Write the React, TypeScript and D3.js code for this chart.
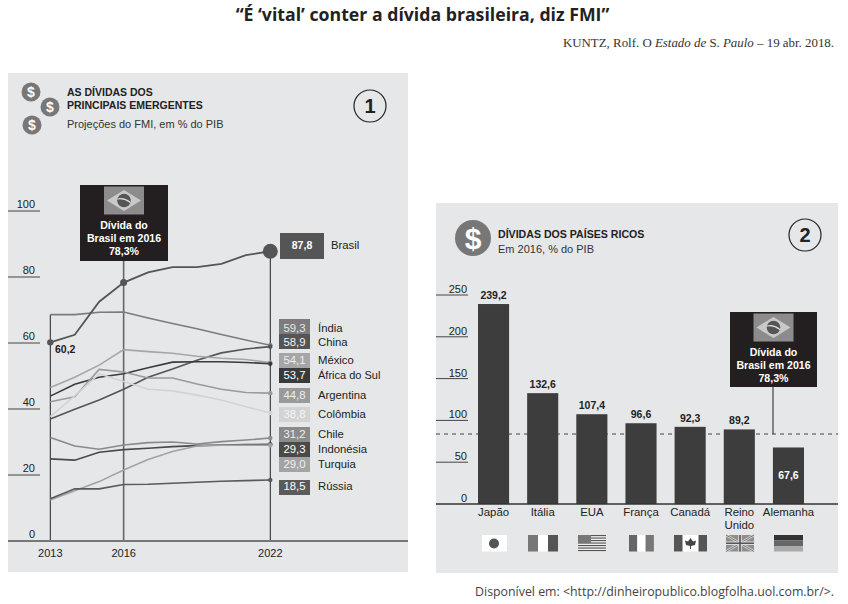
import React from "react";
import * as d3 from "d3";

const years = [2013, 2014, 2015, 2016, 2017, 2018, 2019, 2020, 2021, 2022];
const brasil = [60.2, 62.5, 72.5, 78.3, 81.4, 83, 83, 84, 86.6, 87.8];
const india = [68.6, 68.6, 69.3, 69.4, 67.6, 65.9, 64.3, 62.6, 60.9, 59.3];
const china = [37, 39.9, 42.7, 46, 49.6, 52.1, 54.8, 57, 58.2, 58.9];
const mexico = [46.5, 49.6, 53.3, 58, 57.4, 56.9, 56, 55.4, 55, 54.1];
const africa = [43.9, 47.5, 49.6, 50.7, 52.5, 54.2, 54.3, 54.3, 54.1, 53.7];
const argentina = [42.2, 43.7, 52, 51.2, 49.4, 49.4, 47.6, 46, 45, 44.8];
const colombia = [37.7, 44, 50.6, 48.3, 46, 45.5, 44.2, 42.7, 40.7, 38.8];
const chile = [31.4, 28.8, 27.8, 29.1, 29.8, 30, 29.4, 30.1, 30.6, 31.2];
const indonesia = [24.9, 24.5, 26.9, 27.7, 28.1, 28.6, 28.9, 29.1, 29.2, 29.3];
const turquia = [12.4, 15.2, 18, 21.5, 24.7, 27.1, 28.8, 29, 29, 29];
const russia = [12.8, 15.8, 15.8, 17.1, 17.2, 17.5, 17.8, 18.1, 18.3, 18.5];

const seriesNames = ["Índia", "China", "México", "África do Sul", "Argentina", "Colômbia", "Chile", "Indonésia", "Turquia", "Rússia"];
const seriesValues = [india, china, mexico, africa, argentina, colombia, chile, indonesia, turquia, russia];
const seriesColors = ["#7c7c7c", "#555555", "#a6a6a6", "#3a3a3a", "#9a9a9a", "#d3d3d3", "#8a8a8a", "#4a4a4a", "#a3a3a3", "#5a5a5a"];
const labelTops = [319, 334, 353, 368, 388, 407, 427, 442, 457, 480];
const labelBaselines = [332.2, 345.6, 364, 379, 398.6, 418.2, 438.2, 453.2, 468.2, 490.2];
const labelTextColors = ["#e8e8e8", "#f2f2f2", "#eeeeee", "#ffffff", "#eeeeee", "#f4f4f4", "#f0f0f0", "#ffffff", "#f0f0f0", "#ffffff"];

const leftTicks = [0, 20, 40, 60, 80, 100];
const yearTicks = [2013, 2016, 2022];

const countries = ["Japão", "Itália", "EUA", "França", "Canadá", "Reino", "Alemanha"];
const debts = [239.2, 132.6, 107.4, 96.6, 92.3, 89.2, 67.6];
const rightTicks = [0, 50, 100, 150, 200, 250];
const dashedLevel = 83.7;

const SANS = "'Liberation Sans', Arial, sans-serif";
const comma = (v: number) => v.toFixed(1).replace(".", ",");

const x1 = d3.scaleLinear().domain([2013, 2022]).range([50.3, 270.3]);
const y1 = d3.scaleLinear().domain([0, 100]).range([541, 211]);
const x2 = d3.scaleBand<string>().domain(countries).range([478, 804]).paddingInner(18 / 49);
const y2 = d3.scaleLinear().domain([0, 250]).range([504, 295]);
const line = d3
  .line<number>()
  .x((_, i) => x1(years[i]))
  .y((d) => y1(d));

function Coin({ cx, cy, r, size }: { cx: number; cy: number; r: number; size: number }) {
  return (
    <g>
      <circle cx={cx} cy={cy} r={r} fill="#777" />
      <text x={cx} y={cy + size * 0.36} textAnchor="middle" fontFamily={SANS} fontWeight="bold" fontSize={size} fill="#fff">
        $
      </text>
    </g>
  );
}

function Badge({ cx, cy, n }: { cx: number; cy: number; n: string }) {
  return (
    <g>
      <circle cx={cx} cy={cy} r={16} fill="none" stroke="#222" strokeWidth={1.2} />
      <text x={cx} y={cy + 7} textAnchor="middle" fontFamily={SANS} fontWeight="bold" fontSize={20} fill="#222">
        {n}
      </text>
    </g>
  );
}

function Callout({ x, y, w, h }: { x: number; y: number; w: number; h: number }) {
  const cx = x + w / 2;
  return (
    <g>
      <rect x={x} y={y} width={w} height={h} fill="#231f20" />
      <rect x={cx - 20} y={y + 1.5} width={40} height={28} fill="#8c8c8c" />
      <path d={`M${cx - 17},${y + 15.5} L${cx},${y + 5} L${cx + 17},${y + 15.5} L${cx},${y + 26} Z`} fill="#c9c9c9" />
      <circle cx={cx} cy={y + 15.5} r={6.8} fill="#555" />
      <path d={`M${cx - 6.5},${y + 14} Q${cx},${y + 12.5} ${cx + 6.5},${y + 17.5}`} stroke="#ddd" strokeWidth={1.2} fill="none" />
      <g fontFamily={SANS} fontWeight="bold" fontSize={10.6} fill="#fff" textAnchor="middle">
        <text x={cx} y={y + 43.5}>Dívida do</text>
        <text x={cx} y={y + 56.5}>Brasil em 2016</text>
        <text x={cx} y={y + 69.5}>78,3%</text>
      </g>
    </g>
  );
}

function Flags() {
  const usStripes = d3.range(0, 7);
  return (
    <g>
      <rect x={482} y={535} width={25} height={16.5} fill="#fff" />
      <circle cx={494} cy={543.5} r={5} fill="#555" />

      <rect x={528} y={535} width={10} height={16.5} fill="#777" />
      <rect x={538} y={535} width={10} height={16.5} fill="#fff" />
      <rect x={548} y={535} width={10} height={16.5} fill="#555" />

      <rect x={578} y={535} width={28} height={16.5} fill="#eee" />
      {usStripes.map((i) => (
        <rect key={i} x={578} y={535 + i * 2.5} width={28} height={1.1} fill="#555" />
      ))}
      <rect x={578} y={535} width={13} height={8} fill="#777" />

      <rect x={629} y={535} width={8.3} height={16.5} fill="#666" />
      <rect x={637.3} y={535} width={8.3} height={16.5} fill="#fff" />
      <rect x={645.6} y={535} width={8.3} height={16.5} fill="#777" />

      <rect x={674} y={535} width={33} height={16.5} fill="#fff" />
      <rect x={674} y={535} width={8.5} height={16.5} fill="#555" />
      <rect x={698.5} y={535} width={8.5} height={16.5} fill="#555" />
      <path d="M690.5,538 L693,541.5 L696,540.5 L695,545 L691,546 L691,549 L690,549 L690,546 L686,545 L685,540.5 L688,541.5 Z" fill="#444" />

      <rect x={726} y={535} width={28} height={16.5} fill="#8f8f8f" />
      <path d="M726,535 L754,551.5 M754,535 L726,551.5" stroke="#ddd" strokeWidth={2.6} />
      <path d="M726,535 L754,551.5 M754,535 L726,551.5" stroke="#555" strokeWidth={0.8} />
      <path d="M740,535 V551.5 M726,543.2 H754" stroke="#ddd" strokeWidth={3.6} />
      <path d="M740,535 V551.5 M726,543.2 H754" stroke="#555" strokeWidth={1.6} />

      <rect x={774} y={535} width={29} height={5.5} fill="#333" />
      <rect x={774} y={540.5} width={29} height={5.5} fill="#666" />
      <rect x={774} y={546} width={29} height={5.5} fill="#aaa" />
    </g>
  );
}

export default function App() {
  return (
    <svg width={848} height={604} style={{ position: "absolute", left: 0, top: 0, background: "#fff" }}>
      <text x={422.5} y={21} textAnchor="middle" fontFamily="'Open Sans', sans-serif" fontWeight="bold" fontSize={17.7} fill="#222">
        “É ‘vital’ conter a dívida brasileira, diz FMI”
      </text>
      <text x={834} y={47} textAnchor="end" fontFamily="'Liberation Serif', serif" fontSize={12.9} fill="#333">
        KUNTZ, Rolf. O <tspan fontStyle="italic">Estado de</tspan> S. <tspan fontStyle="italic">Paulo</tspan> – 19 abr. 2018.
      </text>

      {/* Panel 1 */}
      <rect x={8} y={73} width={400} height={499} fill="#e6e7e8" />
      <Coin cx={31} cy={92} r={9.5} size={14} />
      <Coin cx={50} cy={107} r={9.5} size={14} />
      <Coin cx={32} cy={125} r={9.5} size={14} />
      <g fontFamily={SANS} fontSize={10.5} fill="#222">
        <text x={67} y={96} fontWeight="bold">AS DÍVIDAS DOS</text>
        <text x={67} y={109} fontWeight="bold">PRINCIPAIS EMERGENTES</text>
        <text x={67} y={128} fill="#333" fontSize={11}>Projeções do FMI, em % do PIB</text>
      </g>
      <Badge cx={370} cy={106} n="1" />

      {leftTicks.map((t) => (
        <g key={t}>
          {t > 0 && <line x1={8} x2={40} y1={y1(t)} y2={y1(t)} stroke="#444" strokeWidth={1} />}
          <text x={35} y={y1(t) - 3} textAnchor="end" fontFamily={SANS} fontSize={11} fill="#222">
            {t}
          </text>
        </g>
      ))}

      <line x1={x1(2013)} x2={x1(2013)} y1={y1(india[0])} y2={y1(0)} stroke="#222" strokeWidth={1} />
      <line x1={x1(2016)} x2={x1(2016)} y1={255} y2={y1(0)} stroke="#666" strokeWidth={1.6} />
      <line x1={x1(2022)} x2={x1(2022)} y1={y1(87.8)} y2={y1(0)} stroke="#222" strokeWidth={1} />
      <line x1={8} x2={408} y1={y1(0)} y2={y1(0)} stroke="#777" strokeWidth={2} />

      {seriesValues.map((s, i) => (
        <g key={seriesNames[i]}>
          <path d={line(s) ?? ""} fill="none" stroke={seriesColors[i]} strokeWidth={1.6} />
          <circle cx={x1(2022)} cy={y1(s[s.length - 1])} r={2.2} fill={seriesColors[i]} />
        </g>
      ))}
      <path d={line(brasil) ?? ""} fill="none" stroke="#555" strokeWidth={1.8} />
      <circle cx={x1(2013)} cy={y1(brasil[0])} r={3.2} fill="#555" />
      <circle cx={x1(2016)} cy={y1(brasil[3])} r={3.5} fill="#555" />
      <circle cx={x1(2022)} cy={y1(brasil[9])} r={7.5} fill="#555" />
      <text x={55} y={353} fontFamily={SANS} fontWeight="bold" fontSize={10.5} fill="#222">
        {comma(brasil[0])}
      </text>

      <Callout x={80} y={185} w={88} h={76} />

      <rect x={280} y={233} width={44} height={26} fill="#555" />
      <text x={302} y={249} textAnchor="middle" fontFamily={SANS} fontWeight="bold" fontSize={10.5} fill="#fff">
        {comma(brasil[9])}
      </text>
      <text x={331} y={249} fontFamily={SANS} fontSize={11.3} fill="#222">Brasil</text>

      {seriesNames.map((n, i) => {
        const s = seriesValues[i];
        return (
          <g key={n} fontFamily={SANS} fontSize={11.3}>
            <rect x={279} y={labelTops[i]} width={31} height={15} fill={seriesColors[i]} />
            <text x={294.5} y={labelBaselines[i]} textAnchor="middle" fill={labelTextColors[i]}>
              {comma(s[s.length - 1])}
            </text>
            <text x={318} y={labelBaselines[i]} fill="#222" fontSize={i === 3 ? 11 : 11.3}>
              {n}
            </text>
          </g>
        );
      })}

      {yearTicks.map((y) => (
        <text key={y} x={x1(y)} y={557} textAnchor="middle" fontFamily={SANS} fontSize={11} fill="#222">
          {y}
        </text>
      ))}

      {/* Panel 2 */}
      <rect x={436} y={203} width={402} height={370} fill="#e6e7e8" />
      <Coin cx={473} cy={238} r={18} size={30} />
      <Badge cx={805} cy={235} n="2" />
      <g fontFamily={SANS} fontSize={10.6} fill="#222">
        <text x={498} y={238} fontWeight="bold">DÍVIDAS DOS PAÍSES RICOS</text>
        <text x={498} y={253} fill="#333" fontSize={11}>Em 2016, % do PIB</text>
      </g>

      {rightTicks.map((t) => (
        <g key={t}>
          {t > 0 && <line x1={436} x2={468} y1={y2(t)} y2={y2(t)} stroke="#444" strokeWidth={1} />}
          <text x={467} y={y2(t) - 2} textAnchor="end" fontFamily={SANS} fontSize={11} fill="#222">
            {t}
          </text>
        </g>
      ))}

      <line x1={436} x2={838} y1={y2(dashedLevel)} y2={y2(dashedLevel)} stroke="#444" strokeWidth={1} strokeDasharray="4 4" />

      {countries.map((c, i) => {
        const bx = x2(c) ?? 0;
        const cx = bx + x2.bandwidth() / 2;
        const inside = c === "Alemanha";
        return (
          <g key={c} fontFamily={SANS}>
            <rect x={bx} y={y2(debts[i])} width={x2.bandwidth()} height={y2(0) - y2(debts[i])} fill="#3d3d3d" />
            <text
              x={cx}
              y={inside ? 479 : y2(debts[i]) - 5}
              textAnchor="middle"
              fontWeight="bold"
              fontSize={10.5}
              fill={inside ? "#fff" : "#222"}
            >
              {comma(debts[i])}
            </text>
            <text x={cx} y={516} textAnchor="middle" fontSize={11.4} fill="#222">
              {c}
            </text>
            {c === "Reino" && (
              <text x={cx} y={528.5} textAnchor="middle" fontSize={11.4} fill="#222">
                Unido
              </text>
            )}
          </g>
        );
      })}
      <line x1={436} x2={838} y1={y2(0)} y2={y2(0)} stroke="#333" strokeWidth={1.4} />

      <line x1={773} x2={773} y1={387} y2={y2(dashedLevel)} stroke="#222" strokeWidth={1} />
      <Callout x={730} y={312} w={87} h={75} />
      <Flags />

      <text x={834} y={596} textAnchor="end" fontFamily="'Open Sans', sans-serif" fontSize={12.35} fill="#444">
        Disponível em: &lt;http://dinheiropublico.blogfolha.uol.com.br/&gt;.
      </text>
    </svg>
  );
}
